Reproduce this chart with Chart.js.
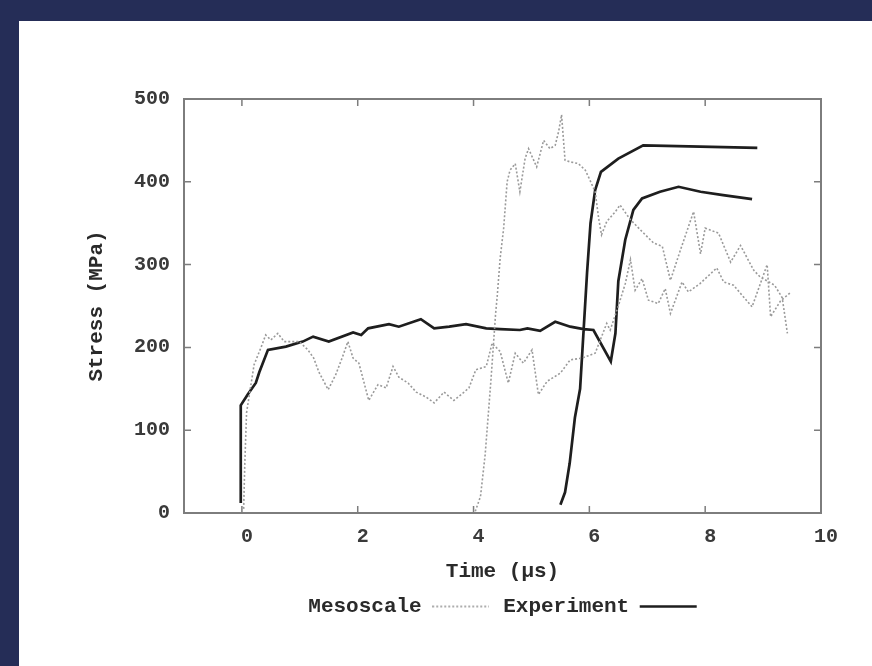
<!DOCTYPE html>
<html>
<head>
<meta charset="utf-8">
<script src="https://cdn.jsdelivr.net/npm/chart.js@4"></script>
<style>
  html, body { margin: 0; padding: 0; width: 872px; height: 666px; overflow: hidden; background: #252d57; }
  #panel { position: absolute; left: 19px; top: 21px; width: 853px; height: 645px; background: #ffffff; }
  #wrap { position: absolute; left: 0; top: 0; width: 872px; height: 666px; }
</style>
</head>
<body>
<div id="panel"></div>
<div id="wrap"><canvas id="c" width="872" height="666"></canvas></div>
<script>
// ---- data ----
const xTicks = [0, 2, 4, 6, 8, 10];
const yTicks = [0, 100, 200, 300, 400, 500];

// Mesoscale, gauge 1
const mesoA_t = [0.03,0.05,0.08,0.21,0.33,0.41,0.5,0.62,0.73,0.99,1.14,1.24,1.33,1.49,1.62,1.74,1.83,1.92,2.02,2.19,2.35,2.49,2.61,2.71,2.87,3.01,3.18,3.32,3.49,3.66,3.82,3.92,4.04,4.22,4.32,4.46,4.6,4.72,4.86,5.01,5.12,5.27,5.5,5.67,5.87,6.1,6.3,6.36,6.5,6.62,6.71,6.79,6.91,7.02,7.19,7.31,7.4,7.6,7.71,7.91,8.2,8.32,8.49,8.81,9.07,9.13,9.3,9.47];
const mesoA_s = [5,60,121,179,200,215,209,217,207,207,197,187,170,149,167,189,207,187,181,136,155,151,177,164,157,146,140,133,146,136,145,151,173,177,205,195,157,193,181,197,143,159,169,185,187,193,229,221,250,277,306,269,283,257,253,271,241,279,267,277,296,279,275,249,300,237,256,266];

// Mesoscale, gauge 2
const mesoB_t = [4.03,4.12,4.2,4.3,4.38,4.41,4.46,4.52,4.58,4.63,4.72,4.8,4.89,4.95,5.09,5.21,5.32,5.41,5.47,5.52,5.58,5.67,5.81,5.93,6.01,6.1,6.16,6.21,6.3,6.45,6.53,6.7,6.88,7.11,7.26,7.4,7.57,7.8,7.92,8.0,8.23,8.44,8.61,8.84,8.95,9.2,9.33,9.42];
const mesoB_s = [2,20,70,160,240,263,308,344,400,414,422,388,428,440,418,450,440,444,461,481,426,424,422,414,402,388,356,336,352,364,372,355,342,326,322,281,317,364,313,344,338,303,323,293,285,275,260,217];

// Experiment, gauge 1
const expA_t = [-0.02,-0.02,0.1,0.24,0.3,0.45,0.76,1.05,1.23,1.5,1.92,2.06,2.18,2.54,2.71,3.09,3.32,3.58,3.87,4.22,4.46,4.8,4.93,5.15,5.41,5.67,5.9,6.07,6.37,6.45,6.5,6.62,6.76,6.91,7.22,7.54,7.92,8.31,8.81];
const expA_s = [12,130,143,157,170,197,201,207,213,207,218,215,223,228,225,234,223,225,228,223,222,221,223,220,231,225,222,221,183,217,280,330,366,380,388,394,388,384,379];

// Experiment, gauge 2
const expB_t = [5.5,5.58,5.66,5.75,5.84,5.9,5.96,6.02,6.1,6.2,6.5,6.93,8.9];
const expB_s = [10,25,60,115,150,220,290,350,390,412,428,444,441];

const seriesLabels = ['Mesoscale', 'Experiment'];

// ---- build datasets (null point breaks the two gauges) ----
function pts(t, s) { return t.map((v, i) => ({ x: v, y: s[i] })); }
function joined(t1, s1, t2, s2) {
  return pts(t1, s1).concat([{ x: t1[t1.length - 1], y: null }], pts(t2, s2));
}

const FONT = "'Liberation Mono', 'Courier New', monospace";
const MESO_COLOR = '#9a9a9a';
const EXP_COLOR = '#1e1e1e';

// dotted legend sample (image point style)
const dotted = document.createElement('canvas');
dotted.width = 57; dotted.height = 4;
(function () {
  const g = dotted.getContext('2d');
  g.strokeStyle = MESO_COLOR;
  g.lineWidth = 1.6;
  g.setLineDash([2, 2]);
  g.beginPath(); g.moveTo(0, 2); g.lineTo(57, 2); g.stroke();
})();

const framePlugin = {
  id: 'frame',
  beforeDatasetsDraw(chart) {
    const { ctx, chartArea: a, scales } = chart;
    ctx.save();
    ctx.strokeStyle = '#7d7d7d';
    ctx.lineWidth = 2;
    ctx.strokeRect(a.left, a.top, a.right - a.left, a.bottom - a.top);
    ctx.lineWidth = 1.5;
    ctx.beginPath();
    const L = 7;
    xTicks.forEach(v => {
      const px = scales.x.getPixelForValue(v);
      ctx.moveTo(px, a.bottom); ctx.lineTo(px, a.bottom - L);
      ctx.moveTo(px, a.top); ctx.lineTo(px, a.top + L);
    });
    yTicks.forEach(v => {
      const py = scales.y.getPixelForValue(v);
      ctx.moveTo(a.left, py); ctx.lineTo(a.left + L, py);
      ctx.moveTo(a.right, py); ctx.lineTo(a.right - L, py);
    });
    ctx.stroke();
    ctx.restore();
  }
};

new Chart(document.getElementById('c'), {
  type: 'line',
  data: {
    datasets: [
      {
        label: seriesLabels[0],
        data: joined(mesoA_t, mesoA_s, mesoB_t, mesoB_s),
        borderColor: MESO_COLOR,
        backgroundColor: 'rgba(0,0,0,0)',
        borderWidth: 1.6,
        borderDash: [2, 2],
        pointRadius: 0,
        pointStyle: dotted,
        spanGaps: false,
        tension: 0,
        fill: false
      },
      {
        label: seriesLabels[1],
        data: joined(expA_t, expA_s, expB_t, expB_s),
        borderColor: EXP_COLOR,
        backgroundColor: 'rgba(0,0,0,0)',
        borderWidth: 2.7,
        pointRadius: 0,
        pointStyle: 'line',
        spanGaps: false,
        tension: 0,
        fill: false
      }
    ]
  },
  options: {
    responsive: false,
    animation: false,
    events: [],
    layout: { padding: { left: 72, right: 51, top: 99, bottom: 39 } },
    scales: {
      x: {
        type: 'linear',
        min: -1, max: 10,
        grid: { display: false, drawTicks: false },
        border: { display: false },
        afterBuildTicks: s => { s.ticks = xTicks.map(v => ({ value: v })); },
        afterFit: s => { s.height = 69; },
        ticks: {
          padding: 14,
          labelOffset: 5,
          color: '#3a3a3a',
          font: { family: FONT, size: 20, weight: 'bold', lineHeight: 1 }
        },
        title: {
          display: true,
          text: 'Time (µs)',
          color: '#2a2a2a',
          padding: { top: 0, bottom: -0.5 },
          font: { family: FONT, size: 21, weight: 'bold', lineHeight: 1 }
        }
      },
      y: {
        type: 'linear',
        min: 0, max: 500,
        grid: { display: false, drawTicks: false },
        border: { display: false },
        afterBuildTicks: s => { s.ticks = yTicks.map(v => ({ value: v })); },
        afterFit: s => { s.width = 112; },
        ticks: {
          padding: 14,
          color: '#3a3a3a',
          font: { family: FONT, size: 20, weight: 'bold', lineHeight: 1 }
        },
        title: {
          display: true,
          text: 'Stress (MPa)',
          color: '#2a2a2a',
          padding: { top: 14.5, bottom: 0 },
          font: { family: FONT, size: 21, weight: 'bold', lineHeight: 1 }
        }
      }
    },
    plugins: {
      tooltip: { enabled: false },
      legend: {
        position: 'bottom',
        fullSize: false,
        rtl: true,
        reverse: true,
        labels: {
          usePointStyle: true,
          pointStyleWidth: 57,
          padding: 14,
          color: '#2a2a2a',
          font: { family: FONT, size: 21, weight: 'bold', lineHeight: 1 }
        }
      }
    }
  },
  plugins: [framePlugin]
});
</script>
</body>
</html>
